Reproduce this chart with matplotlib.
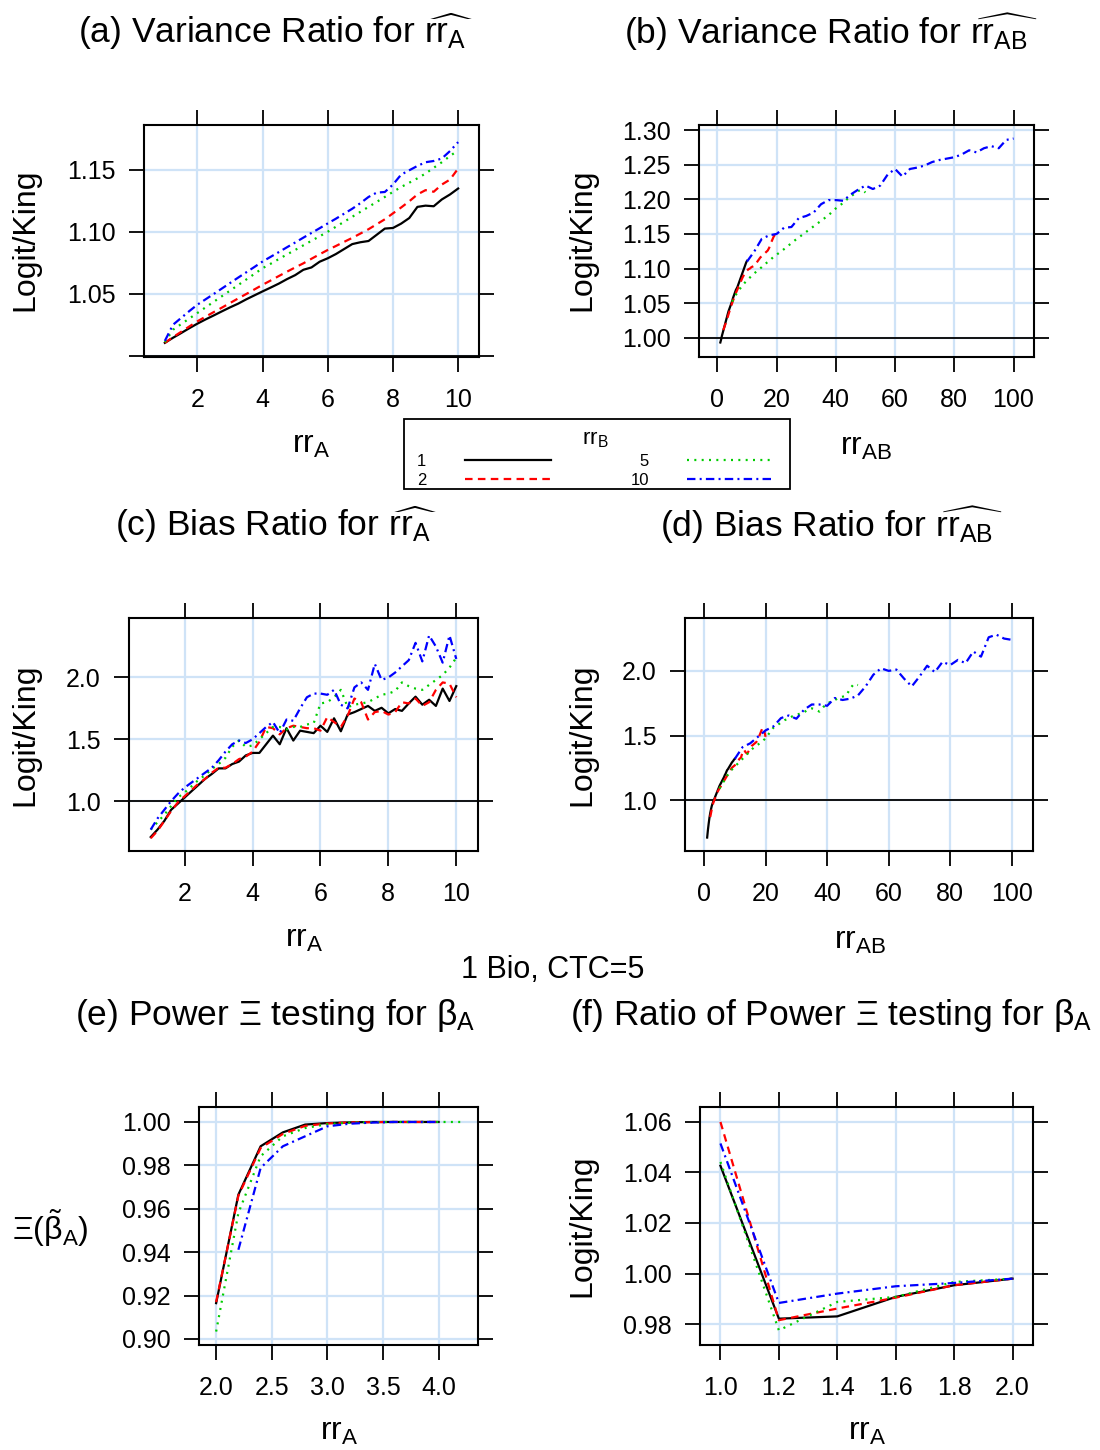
import numpy as np
import matplotlib
matplotlib.use('Agg')
import matplotlib.pyplot as plt
from matplotlib.patches import Rectangle

plt.rcParams['font.family'] = ['Liberation Sans', 'DejaVu Sans']
plt.rcParams['mathtext.fontset'] = 'custom'
plt.rcParams['mathtext.rm'] = 'Liberation Sans'
plt.rcParams['mathtext.it'] = 'Liberation Sans:italic'
plt.rcParams['mathtext.bf'] = 'Liberation Sans:bold'
plt.rcParams['mathtext.sf'] = 'Liberation Sans'
plt.rcParams['mathtext.default'] = 'regular'

# ---------------- data ----------------
rrB_labels = ['1', '2', '5', '10']
rrB_values = [1, 2, 5, 10]

# (a) variance ratio for rr_A, rr_A grid step 0.25
rrA_a = np.round(np.arange(1.0, 10.001, 0.25), 2)
var_a_1 = [1.0104, 1.0145, 1.0183, 1.0222, 1.0259, 1.0293, 1.0325, 1.0358, 1.0390, 1.0420,
           1.0455, 1.0487, 1.0519, 1.0550, 1.0582, 1.0618, 1.0650, 1.0693, 1.0712, 1.0758,
           1.0786, 1.0820, 1.0860, 1.0900, 1.0915, 1.0925, 1.0975, 1.1025, 1.1030, 1.1065,
           1.1110, 1.1200, 1.1210, 1.1205, 1.1260, 1.1300, 1.1348]
var_a_2 = [1.0104, 1.0150, 1.0193, 1.0236, 1.0278, 1.0315, 1.0352, 1.0388, 1.0425, 1.0462,
           1.0498, 1.0535, 1.0572, 1.0607, 1.0643, 1.0678, 1.0712, 1.0745, 1.0782, 1.0818,
           1.0853, 1.0885, 1.0918, 1.0950, 1.0985, 1.1020, 1.1060, 1.1100, 1.1148, 1.1195,
           1.1245, 1.1300, 1.1335, 1.1322, 1.1380, 1.1420, 1.1509]
var_a_5 = [1.0110, 1.0210, 1.0255, 1.0300, 1.0345, 1.0390, 1.0435, 1.0480, 1.0525, 1.0570,
           1.0615, 1.0660, 1.0706, 1.0742, 1.0780, 1.0817, 1.0853, 1.0890, 1.0927, 1.0963,
           1.1000, 1.1040, 1.1080, 1.1120, 1.1160, 1.1200, 1.1240, 1.1280, 1.1321, 1.1360,
           1.1395, 1.1430, 1.1469, 1.1515, 1.1560, 1.1610, 1.1656]
var_a_10 = [1.0120, 1.0250, 1.0305, 1.0360, 1.0412, 1.0455, 1.0498, 1.0542, 1.0586, 1.0630,
            1.0673, 1.0716, 1.0760, 1.0798, 1.0836, 1.0875, 1.0913, 1.0952, 1.0990, 1.1028,
            1.1067, 1.1105, 1.1145, 1.1185, 1.1230, 1.1280, 1.1315, 1.1320, 1.1380, 1.1460,
            1.1495, 1.1530, 1.1560, 1.1570, 1.1590, 1.1650, 1.1722]

# (b) variance ratio for rr_AB (x = rr_A * rr_B)
var_b_1 = [0.993, 0.997, 1.002, 1.006, 1.010, 1.014, 1.018, 1.022, 1.026, 1.030,
           1.034, 1.038, 1.041, 1.044, 1.047, 1.050, 1.053, 1.057, 1.060, 1.063,
           1.066, 1.069, 1.071, 1.073, 1.076, 1.079, 1.082, 1.085, 1.088, 1.091,
           1.094, 1.097, 1.100, 1.103, 1.106, 1.109, 1.111]
var_b_2 = [1.011, 1.017, 1.023, 1.030, 1.037, 1.044, 1.050, 1.056, 1.062, 1.067,
           1.072, 1.077, 1.082, 1.087, 1.091, 1.094, 1.097, 1.099, 1.100, 1.102,
           1.103, 1.104, 1.107, 1.110, 1.113, 1.116, 1.118, 1.120, 1.122, 1.124,
           1.126, 1.130, 1.136, 1.141, 1.146, 1.149, 1.150]
var_b_5 = [1.052, 1.062, 1.070, 1.077, 1.083, 1.088, 1.093, 1.098, 1.102, 1.107,
           1.111, 1.116, 1.120, 1.124, 1.128, 1.132, 1.137, 1.141, 1.145, 1.149,
           1.153, 1.157, 1.161, 1.165, 1.169, 1.173, 1.177, 1.182, 1.187, 1.191,
           1.195, 1.200, 1.204, 1.208, 1.212, 1.214, 1.210]
var_b_10 = [1.110, 1.125, 1.143, 1.148, 1.150, 1.159, 1.160, 1.173, 1.176, 1.181,
            1.193, 1.199, 1.199, 1.198, 1.207, 1.214, 1.220, 1.215, 1.220, 1.236,
            1.244, 1.233, 1.244, 1.246, 1.249, 1.254, 1.257, 1.259, 1.261, 1.265,
            1.271, 1.268, 1.274, 1.277, 1.274, 1.286, 1.288]

# (c) bias ratio for rr_A, rr_A grid step 0.2
rrA_c = np.round(np.arange(1.0, 10.001, 0.2), 2)
bias_c_1 = [0.71, 0.77, 0.84, 0.93, 0.98, 1.03, 1.08, 1.13, 1.18, 1.22,
            1.265, 1.265, 1.30, 1.32, 1.37, 1.39, 1.39, 1.46, 1.53, 1.46,
            1.59, 1.49, 1.57, 1.56, 1.55, 1.61, 1.56, 1.67, 1.565, 1.70,
            1.72, 1.745, 1.77, 1.73, 1.755, 1.71, 1.745, 1.73, 1.79, 1.845,
            1.78, 1.82, 1.77, 1.91, 1.81, 1.93]
bias_c_2 = [0.70, 0.76, 0.84, 0.92, 0.99, 1.04, 1.09, 1.14, 1.18, 1.23,
            1.27, 1.27, 1.30, 1.34, 1.36, 1.40, 1.48, 1.60, 1.59, 1.54,
            1.59, 1.61, 1.60, 1.59, 1.59, 1.57, 1.68, 1.64, 1.60, 1.69,
            1.83, 1.80, 1.66, 1.72, 1.73, 1.70, 1.72, 1.80, 1.79, 1.83,
            1.77, 1.80, 1.90, 1.96, 1.95, 1.84]
bias_c_5 = [0.77, 0.83, 0.89, 0.96, 1.03, 1.07, 1.12, 1.17, 1.21, 1.26,
            1.30, 1.35, 1.44, 1.49, 1.44, 1.45, 1.50, 1.55, 1.60, 1.60,
            1.58, 1.60, 1.60, 1.62, 1.63, 1.79, 1.80, 1.84, 1.90, 1.76,
            1.78, 1.79, 1.80, 1.83, 1.86, 1.87, 1.89, 1.96, 1.93, 1.91,
            1.90, 1.94, 1.98, 2.02, 2.08, 2.16]
bias_c_10 = [0.77, 0.86, 0.93, 1.00, 1.06, 1.11, 1.15, 1.19, 1.23, 1.27,
             1.33, 1.40, 1.46, 1.49, 1.47, 1.50, 1.55, 1.60, 1.64, 1.55,
             1.66, 1.65, 1.75, 1.84, 1.87, 1.87, 1.86, 1.90, 1.78, 1.75,
             1.92, 1.96, 1.90, 2.11, 1.98, 2.00, 2.04, 2.09, 2.14, 2.28,
             2.13, 2.34, 2.25, 2.12, 2.34, 2.15]

# (d) bias ratio for rr_AB (x = rr_A * rr_B), rr_A grid step 0.25
bias_d_1 = [0.711, 0.77, 0.82, 0.865, 0.90, 0.93, 0.955, 0.975, 0.99, 1.003,
            1.02, 1.035, 1.05, 1.065, 1.08, 1.095, 1.11, 1.122, 1.133, 1.145,
            1.157, 1.168, 1.18, 1.195, 1.205, 1.22, 1.233, 1.24, 1.25, 1.26,
            1.27, 1.28, 1.29, 1.298, 1.305, 1.315, 1.32]
bias_d_2 = [0.87, 0.93, 0.98, 1.01, 1.04, 1.07, 1.09, 1.11, 1.13, 1.15,
            1.17, 1.19, 1.21, 1.23, 1.25, 1.26, 1.27, 1.29, 1.30, 1.32,
            1.33, 1.37, 1.39, 1.37, 1.36, 1.38, 1.40, 1.42, 1.43, 1.44,
            1.45, 1.47, 1.50, 1.53, 1.56, 1.54, 1.49]
bias_d_5 = [1.09, 1.14, 1.19, 1.23, 1.26, 1.29, 1.32, 1.35, 1.38, 1.41,
            1.43, 1.45, 1.48, 1.52, 1.56, 1.58, 1.60, 1.62, 1.63, 1.65,
            1.66, 1.67, 1.68, 1.70, 1.71, 1.70, 1.685, 1.72, 1.75, 1.76,
            1.775, 1.79, 1.80, 1.81, 1.865, 1.90, 1.89]
bias_d_10 = [1.32, 1.41, 1.44, 1.49, 1.54, 1.57, 1.635, 1.655, 1.63, 1.70,
             1.74, 1.74, 1.73, 1.79, 1.775, 1.785, 1.81, 1.88, 1.97, 2.02,
             2.00, 2.01, 1.94, 1.88, 1.956, 2.04, 1.99, 2.07, 2.045, 2.085,
             2.06, 2.15, 2.11, 2.26, 2.28, 2.25, 2.24]

# (e) power for beta_A
rrA_e = [2.0, 2.2, 2.4, 2.6, 2.8, 3.0, 3.2, 3.4, 3.6, 3.8, 4.0, 4.2]
pow_e_1 = [0.9165, 0.9665, 0.9888, 0.9952, 0.9988, 0.9995, 0.9998, 1.0, 1.0, 1.0, 1.0, np.nan]
pow_e_2 = [0.9170, 0.9660, 0.9880, 0.9945, 0.9982, 0.9993, 0.9998, 0.9999, 1.0, 1.0, 1.0, np.nan]
pow_e_5 = [0.9034, 0.9580, 0.9842, 0.9934, 0.9972, 0.9990, 0.9997, 0.9999, 1.0, 1.0, 1.0, 1.0]
pow_e_10 = [np.nan, 0.9411, 0.9788, 0.9888, 0.9934, 0.9980, 0.9992, 0.9997, 1.0, 1.0, 1.0, np.nan]

# (f) ratio of power for beta_A
rrA_f = [1.0, 1.2, 1.4, 1.6, 1.8, 2.0]
rat_f_1 = [1.0426, 0.9822, 0.9831, 0.9908, 0.9954, 0.9980]
rat_f_2 = [1.0599, 0.9816, 0.9862, 0.9905, 0.9954, 0.9980]
rat_f_5 = [1.0441, 0.9776, 0.9888, 0.9908, 0.9967, 0.9980]
rat_f_10 = [1.0514, 0.9884, 0.9921, 0.9950, 0.9963, 0.9980]

# ---------------- styles ----------------
colors = ['#000000', '#FF0000', '#00CD00', '#0000FF']
styles = ['-', (0, (3.4, 2.4)), (0, (0.9, 2.4)), (0, (3.8, 1.9, 0.9, 1.9))]
LW = 1.6
GRID = '#cfe3f7'

W, H = 1100, 1450
fig = plt.figure(figsize=(11, 14.5), dpi=100)


def rect(l, r, t, b):
    return [l / W, 1 - b / H, (r - l) / W, (b - t) / H]


def make_panel(box, xlim, ylim, xticks, xtl, yticks, ytl, hline):
    ax = fig.add_axes(rect(*box))
    ax.set_xlim(*xlim)
    ax.set_ylim(*ylim)
    ax.set_xticks(xticks)
    ax.set_xticklabels(xtl)
    ax.set_yticks(yticks)
    ax.set_yticklabels(ytl)
    ax.tick_params(direction='out', length=10.5, width=1.3, top=True, right=True,
                   labeltop=False, labelright=False, labelsize=18)
    ax.tick_params(axis='x', pad=12)
    ax.tick_params(axis='y', pad=10)
    for s in ax.spines.values():
        s.set_linewidth(1.5)
    ax.grid(True, color=GRID, lw=1.6)
    ax.set_axisbelow(True)
    if hline:
        ax.axhline(1.0, color='black', lw=1.3, zorder=1.8)
    return ax


def draw(ax, xs, series):
    lines = []
    for i, y in enumerate(series):
        x = xs[i] if isinstance(xs, list) and len(xs) == 4 else xs
        ln, = ax.plot(x, y, color=colors[i], linestyle=styles[i], lw=LW, zorder=2 + i * 0.01)
        lines.append(ln)
    return lines


def lab2(vals):
    return ['%.2f' % v for v in vals]


def lab1(vals):
    return ['%.1f' % v for v in vals]


def labi(vals):
    return ['%d' % v for v in vals]


# (a)
ytA = [1.00, 1.05, 1.10, 1.15]
axa = make_panel((144, 479, 125, 357), (0.36, 10.64), (0.999, 1.186),
                 [2, 4, 6, 8, 10], labi([2, 4, 6, 8, 10]),
                 ytA, [''] + lab2(ytA[1:]), True)
lines = draw(axa, rrA_a, [var_a_1, var_a_2, var_a_5, var_a_10])

# (b)
xb = [rrA_a * b for b in rrB_values]
ytB = [1.00, 1.05, 1.10, 1.15, 1.20, 1.25, 1.30]
axb = make_panel((699, 1034, 125, 357), (-6.2, 106.9), (0.972, 1.3076),
                 [0, 20, 40, 60, 80, 100], labi([0, 20, 40, 60, 80, 100]),
                 ytB, lab2(ytB), True)
draw(axb, xb, [var_b_1, var_b_2, var_b_5, var_b_10])

# (c)
ytC = [1.0, 1.5, 2.0]
axc = make_panel((129, 478, 618, 851), (0.36, 10.64), (0.597, 2.481),
                 [2, 4, 6, 8, 10], labi([2, 4, 6, 8, 10]),
                 ytC, lab1(ytC), True)
draw(axc, rrA_c, [bias_c_1, bias_c_2, bias_c_5, bias_c_10])

# (d)
axd = make_panel((685, 1033, 618, 851), (-6.2, 106.9), (0.607, 2.409),
                 [0, 20, 40, 60, 80, 100], labi([0, 20, 40, 60, 80, 100]),
                 ytC, lab1(ytC), True)
draw(axd, xb, [bias_d_1, bias_d_2, bias_d_5, bias_d_10])

# (e)
xtE = [2.0, 2.5, 3.0, 3.5, 4.0]
ytE = [0.90, 0.92, 0.94, 0.96, 0.98, 1.00]
axe = make_panel((199, 478, 1107, 1345), (1.846, 4.354), (0.8972, 1.0069),
                 xtE, lab1(xtE), ytE, lab2(ytE), False)
draw(axe, rrA_e, [pow_e_1, pow_e_2, pow_e_5, pow_e_10])

# (f)
xtF = [1.0, 1.2, 1.4, 1.6, 1.8, 2.0]
ytF = [0.98, 1.00, 1.02, 1.04, 1.06]
axf = make_panel((700, 1033, 1107, 1345), (0.93, 2.07), (0.9718, 1.0658),
                 xtF, lab1(xtF), ytF, lab2(ytF), False)
draw(axf, rrA_f, [rat_f_1, rat_f_2, rat_f_5, rat_f_10])


def ftext(x, y, s, **kw):
    fig.text(x / W, 1 - y / H, s, ha='center', va='center', **kw)


TS = 25.5
MF = 'stixsans'
ftext(275, 32, r'(a) Variance Ratio for $\widehat{rr_{A}}$', fontsize=TS, math_fontfamily=MF)
ftext(831, 32, r'(b) Variance Ratio for $\widehat{rr_{AB}}$', fontsize=TS, math_fontfamily=MF)
ftext(276, 525, r'(c) Bias Ratio for $\widehat{rr_{A}}$', fontsize=TS, math_fontfamily=MF)
ftext(831, 525, r'(d) Bias Ratio for $\widehat{rr_{AB}}$', fontsize=TS, math_fontfamily=MF)
ftext(275, 1016, r'(e) Power $\Xi$ testing for $\beta_{A}$', fontsize=TS)
ftext(831, 1016, r'(f) Ratio of Power $\Xi$ testing for $\beta_{A}$', fontsize=TS)
ftext(553, 970, '1 Bio, CTC=5', fontsize=22)

LS = 23
ftext(311, 445, r'$rr_{A}$', fontsize=LS)
ftext(866, 447, r'$rr_{AB}$', fontsize=LS)
ftext(304, 939, r'$rr_{A}$', fontsize=LS)
ftext(860, 941, r'$rr_{AB}$', fontsize=LS)
ftext(339, 1432, r'$rr_{A}$', fontsize=LS)
ftext(867, 1432, r'$rr_{A}$', fontsize=LS)

ftext(25, 240, 'Logit/King', fontsize=LS, rotation=90)
ftext(582, 240, 'Logit/King', fontsize=LS, rotation=90)
ftext(25, 735, 'Logit/King', fontsize=LS, rotation=90)
ftext(582, 735, 'Logit/King', fontsize=LS, rotation=90)
ftext(50, 1228, r'$\Xi(\tilde{\beta}_{A})$', fontsize=LS)
ftext(582, 1226, 'Logit/King', fontsize=LS, rotation=90)

# legend: entries inside an outer frame box
fig.patches.append(Rectangle((404 / W, 1 - 489 / H), 386 / W, 70 / H, transform=fig.transFigure,
                             fill=False, edgecolor='black', linewidth=1.3))
leg = fig.legend(handles=lines, labels=rrB_labels, ncol=2, loc='center',
                 bbox_to_anchor=(417 / W, 1 - 498 / H, 357 / W, 80 / H), mode='expand',
                 markerfirst=False, title=r'$rr_{B}$', fontsize=12, title_fontsize=16,
                 frameon=False, handlelength=5.2, handletextpad=2.3, borderpad=0.0,
                 labelspacing=0.25, borderaxespad=0)

fig.savefig('out.png', dpi=100)
